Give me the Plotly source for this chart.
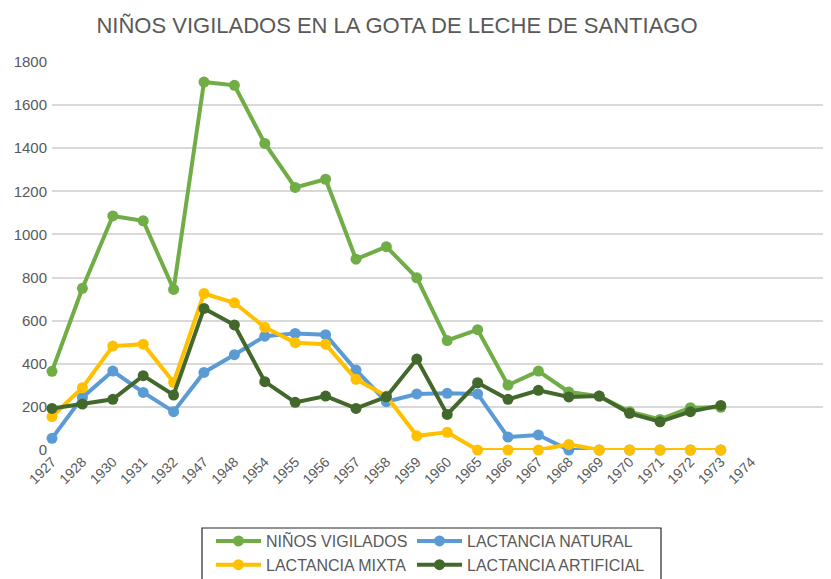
import plotly.graph_objects as go

years = ["1927", "1928", "1930", "1931", "1932", "1947", "1948", "1954", "1955", "1956",
         "1957", "1958", "1959", "1960", "1965", "1966", "1967", "1968", "1969", "1970",
         "1971", "1972", "1973", "1974"]

ninos_vigilados = [365, 750, 1086, 1063, 745, 1707, 1692, 1422, 1218, 1256,
                   885, 943, 799, 508, 558, 301, 366, 269, 250, 178,
                   142, 196, 198, None]
lactancia_natural = [54, 244, 366, 267, 178, 360, 442, 528, 541, 535,
                     371, 224, 260, 263, 260, 60, 70, 0, 0, 0,
                     0, 0, 0, None]
lactancia_mixta = [155, 289, 482, 491, 314, 726, 683, 569, 498, 491,
                   328, 250, 66, 82, 0, 0, 0, 26, 0, 0,
                   0, 0, 0, None]
lactancia_artificial = [193, 213, 235, 345, 255, 657, 580, 317, 221, 250,
                        193, 247, 422, 165, 312, 235, 277, 246, 250, 170,
                        131, 178, 207, None]

series = [
    ("NIÑOS VIGILADOS", ninos_vigilados, "#70AD47", "legend"),
    ("LACTANCIA NATURAL", lactancia_natural, "#5B9BD5", "legend2"),
    ("LACTANCIA MIXTA", lactancia_mixta, "#FFC000", "legend"),
    ("LACTANCIA ARTIFICIAL", lactancia_artificial, "#43682B", "legend2"),
]

FONT = "Liberation Sans, Arial, sans-serif"
GRAY = "#595959"

# The page body adds an 8px offset, so the figure is sized/positioned to compensate.
W, H = 823, 571
OFF = 8
L, T, PW, PH = 52 - OFF, 62 - OFF, 779, 388

fig = go.Figure()
for name, vals, color, lg in series:
    fig.add_trace(go.Scatter(
        x=years, y=vals, name=name, mode="lines+markers",
        line=dict(color=color, width=4),
        marker=dict(color=color, size=11),
        cliponaxis=False, legend=lg,
    ))

def cx(px):
    return (px - OFF) / W

def cy(py):
    return 1 - (py - OFF) / H

def paper_x(px):
    return (px - OFF - L) / PW

def paper_y(py):
    return (T + PH - (py - OFF)) / PH

legend_common = dict(orientation="v", xanchor="left", yanchor="top",
                     xref="container", yref="container",
                     bgcolor="rgba(0,0,0,0)", borderwidth=0, itemwidth=45,
                     font=dict(family=FONT, size=16, color=GRAY))

fig.update_layout(
    width=W, height=H,
    margin=dict(l=L, r=W - L - PW, t=T, b=H - T - PH, autoexpand=False),
    plot_bgcolor="white", paper_bgcolor="white",
    font=dict(family=FONT, color=GRAY, size=13),
    title=dict(text="NIÑOS VIGILADOS EN LA GOTA DE LECHE DE SANTIAGO",
               x=cx(397), xanchor="center", xref="container",
               y=cy(25), yanchor="middle", yref="container",
               font=dict(family=FONT, size=22, color=GRAY)),
    xaxis=dict(type="category", categoryorder="array", categoryarray=years,
               range=[0, PW / 30.4], tickangle=-45, showgrid=False,
               showline=False, zeroline=False, ticks="", automargin=False,
               tickfont=dict(family=FONT, size=14, color=GRAY)),
    yaxis=dict(range=[0, 1800], dtick=200, showgrid=True, gridcolor="#D9D9D9",
               gridwidth=1.5, zeroline=False, showline=False, ticks="",
               automargin=False, ticklabelstandoff=4,
               tickfont=dict(family=FONT, size=15, color=GRAY)),
    legend=dict(x=cx(211), y=cy(524), **legend_common),
    legend2=dict(x=cx(412), y=cy(524), **legend_common),
    shapes=[dict(type="rect", xref="paper", yref="paper",
                 x0=paper_x(202), x1=paper_x(661),
                 y0=paper_y(528), y1=paper_y(600),
                 line=dict(color="#262626", width=1.2),
                 fillcolor="rgba(0,0,0,0)", layer="below")],
)

fig.write_html("out.html")
